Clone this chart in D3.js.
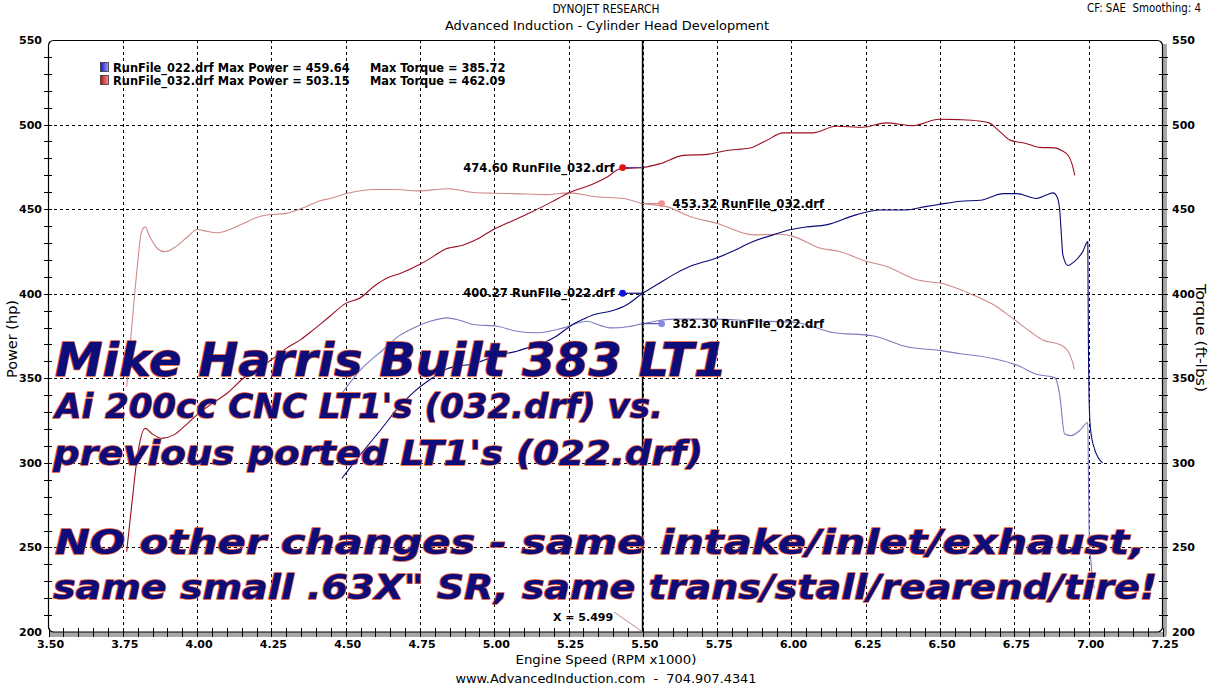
<!DOCTYPE html>
<html><head><meta charset="utf-8">
<script src="https://cdn.jsdelivr.net/npm/d3@7"></script>
<style>body{margin:0;background:#fff}svg{display:block}text{white-space:pre}</style>
</head><body><svg id="c" width="1211" height="685"></svg>
<script>
// ---------------- DATA ----------------
const xTickValues = [3.50,3.75,4.00,4.25,4.50,4.75,5.00,5.25,5.50,5.75,6.00,6.25,6.50,6.75,7.00,7.25];
const yTickValues = [200,250,300,350,400,450,500,550];

// RunFile_032 power (hp) : [rpm x1000, hp]
const power032 = [[3.763,247.5],[3.78,275],[3.80,305],[3.825,320.4],[3.85,317],[3.881,314.5],[3.92,316.4],[3.96,322],[4.01,330],[4.05,335],[4.1,341],[4.156,350],[4.2,355],[4.25,361],[4.3,367.7],[4.35,373],[4.39,378.5],[4.447,386.7],[4.5,394.3],[4.548,397.5],[4.6,405],[4.638,409.2],[4.683,412],[4.745,417],[4.79,421.5],[4.829,425.9],[4.896,428.8],[4.95,433],[4.997,438],[5.06,443],[5.12,447.8],[5.19,454],[5.25,459.6],[5.334,465],[5.38,469],[5.424,473.9],[5.499,474.6],[5.558,476.9],[5.636,481.8],[5.715,482.4],[5.782,484.7],[5.86,486.1],[5.916,490.6],[5.972,495.1],[6.072,495.1],[6.15,499],[6.24,498.4],[6.318,501],[6.407,499.4],[6.497,503.15],[6.564,502.9],[6.631,502.1],[6.665,501],[6.70,496],[6.735,490.8],[6.786,489],[6.836,486.5],[6.886,486.2],[6.91,484.5],[6.93,482],[6.945,476],[6.953,470]];
// RunFile_032 torque (ft-lbs)
const torque032 = [[3.763,345],[3.78,380],[3.80,418],[3.812,436],[3.825,439.5],[3.84,434],[3.865,427],[3.892,424.8],[3.93,428],[3.97,434],[4.0,438],[4.03,437],[4.066,436],[4.11,438],[4.15,441],[4.2,445],[4.234,446.5],[4.3,447.5],[4.36,451],[4.414,455],[4.447,456.3],[4.51,459.5],[4.593,461.6],[4.672,461.6],[4.74,460.8],[4.818,461.8],[4.84,462.09],[4.863,461.8],[4.93,459.8],[5.0,459.4],[5.065,459.2],[5.177,458.6],[5.25,459.6],[5.345,457.3],[5.435,456.3],[5.499,453.32],[5.58,451.5],[5.659,445.6],[5.748,441.7],[5.871,434.8],[5.96,435.2],[6.005,433.9],[6.095,427],[6.162,425],[6.251,419.2],[6.318,416.2],[6.419,408.4],[6.519,405.5],[6.569,402.4],[6.631,397.7],[6.68,393.5],[6.75,384.7],[6.802,377.8],[6.847,372.5],[6.902,370],[6.93,366.1],[6.945,360],[6.952,355.3]];
// RunFile_022 power (hp)
const power022 = [[4.487,290.8],[4.55,305],[4.62,320],[4.683,334],[4.73,342],[4.79,350],[4.84,355.5],[4.89,357.5],[4.93,358.5],[4.97,361],[5.009,363.5],[5.076,366],[5.12,368.5],[5.166,371],[5.21,375],[5.255,380.8],[5.3,385],[5.334,387.6],[5.39,389.6],[5.446,393.5],[5.499,400.27],[5.558,406.5],[5.6,411],[5.659,416.2],[5.748,421.1],[5.8,425],[5.871,430.9],[5.938,434.8],[5.994,437.8],[6.05,439.5],[6.117,440.7],[6.217,446.6],[6.296,449.5],[6.385,449.5],[6.45,451.5],[6.497,452.8],[6.569,454.7],[6.636,455.3],[6.713,459.2],[6.758,459.2],[6.824,456.3],[6.86,458.5],[6.88,459.64],[6.893,457.5],[6.902,450.4],[6.908,435],[6.913,422.9],[6.93,416.7],[6.952,419],[6.98,424.9],[6.997,430.8],[6.998,400],[6.999,370],[7.001,340],[7.006,320],[7.02,308],[7.047,300]];
// RunFile_022 torque (ft-lbs)
const torque022 = [[4.487,341],[4.55,355],[4.62,366],[4.683,375.5],[4.728,379.8],[4.79,384],[4.84,385.72],[4.88,384.5],[4.93,381.8],[5.009,380.8],[5.076,377.8],[5.143,376.9],[5.19,378],[5.233,379.8],[5.312,383.7],[5.36,381],[5.39,379.8],[5.45,380.5],[5.499,382.3],[5.603,385],[5.748,385],[5.86,384],[6.016,383],[6.08,380],[6.139,377.1],[6.273,375.1],[6.396,368.3],[6.497,366.5],[6.569,364.5],[6.636,363],[6.713,360.2],[6.758,357.8],[6.824,352.4],[6.886,350.4],[6.902,340.6],[6.919,317],[6.941,316.1],[6.969,319],[6.997,323.9],[6.999,295],[7.001,262],[7.008,240.6],[7.019,226]];

const legendFiles = ["RunFile_022.drf","RunFile_032.drf"];
const legendMaxPower = ["459.64","503.15"];
const legendMaxTorque = ["385.72","462.09"];

const cursorRpm = 5.499;
const readoutValues = [474.60, 453.32, 400.27, 382.30];
const readoutFiles = ["RunFile_032.drf","RunFile_032.drf","RunFile_022.drf","RunFile_022.drf"];
const readoutSides = ["left","right","left","right"];

const headlineLines = ["Mike Harris Built 383 LT1","Ai 200cc CNC LT1's (032.drf) vs.","previous ported LT1's (022.drf)","NO other changes - same intake/inlet/exhaust,","same small .63X\" SR, same trans/stall/rearend/tire!"];

// ---------------- DRAW ----------------
const svg = d3.select("#c");
const x = d3.scaleLinear().domain([3.5,7.25]).range([48.5,1163]);
const y = d3.scaleLinear().domain([200,550]).range([632,40]);
const boldFont = "'DejaVu Sans', Verdana, sans-serif";
const narrowFont = "'Liberation Sans Narrow','DejaVu Sans Condensed',sans-serif";

const C = {p032:"#9a1020", t032:"#d08a8a", p022:"#0a0a78", t022:"#7b7bc0",
           d032p:"#e01010", d032t:"#f09090", d022p:"#1010e0", d022t:"#8888e8"};

// header / titles
const hdr = svg.append("g").attr("font-family",narrowFont).attr("fill","#000").attr("font-size","13px");
function fitText(sel, len){ return sel.attr("textLength",len).attr("lengthAdjust","spacingAndGlyphs"); }
fitText(hdr.append("text").attr("x",606).attr("y",13).attr("text-anchor","middle").text("DYNOJET RESEARCH"),107);
fitText(hdr.append("text").attr("x",607).attr("y",30).attr("text-anchor","middle").text("Advanced Induction - Cylinder Head Development"),324);
fitText(hdr.append("text").attr("x",1087).attr("y",12).attr("font-size","12.5px").text("CF: SAE  Smoothing: 4"),114);
fitText(hdr.append("text").attr("x",606).attr("y",664).attr("text-anchor","middle").attr("font-size","13px").text("Engine Speed (RPM x1000)"),181);
fitText(hdr.append("text").attr("x",606).attr("y",683).attr("text-anchor","middle").text("www.AdvancedInduction.com  -  704.907.4341"),301);
fitText(hdr.append("text").attr("transform","translate(17,339) rotate(-90)").attr("text-anchor","middle").attr("font-size","14px").text("Power (hp)"),78);
fitText(hdr.append("text").attr("transform","translate(1196,338) rotate(90)").attr("text-anchor","middle").attr("font-size","14px").text("Torque (ft-lbs)"),108);

// shadows
svg.append("rect").attr("x",50).attr("y",632).attr("width",1116).attr("height",5).attr("fill","#a8a8a8");
svg.append("rect").attr("x",1163).attr("y",44).attr("width",4).attr("height",592).attr("fill","#a8a8a8");

// grid
const grid = svg.append("g").attr("stroke","#000").attr("stroke-width",1).attr("stroke-dasharray","3,3").attr("shape-rendering","crispEdges");
grid.selectAll("line.v").data(xTickValues.filter(d=>d>3.5&&d<7.25)).join("line")
  .attr("x1",d=>Math.round(x(d))+0.5).attr("x2",d=>Math.round(x(d))+0.5).attr("y1",40).attr("y2",632);
grid.selectAll("line.h").data(yTickValues.filter(d=>d>200&&d<550)).join("line")
  .attr("y1",d=>Math.round(y(d))+0.5).attr("y2",d=>Math.round(y(d))+0.5).attr("x1",48).attr("x2",1163);

// frame with rounded corners
svg.append("rect").attr("x",48.5).attr("y",40.5).attr("width",1114).attr("height",591.5).attr("rx",5)
  .attr("fill","none").attr("stroke","#000").attr("stroke-width",1.2);

// minor ticks
const minorX = d3.range(0,76).map(i=>3.5+i*0.05);
svg.append("g").selectAll("line").data(minorX).join("line")
  .attr("x1",d=>Math.round(x(d))+0.5).attr("x2",d=>Math.round(x(d))+0.5).attr("y1",628).attr("y2",637)
  .attr("stroke","#000").attr("stroke-width",1).attr("shape-rendering","crispEdges");
const minorY = d3.range(1,35).map(i=>200+i*10);
svg.append("g").selectAll("line").data(minorY).join("line")
  .attr("y1",d=>Math.round(y(d))+0.5).attr("y2",d=>Math.round(y(d))+0.5).attr("x1",44).attr("x2",52)
  .attr("stroke","#000").attr("shape-rendering","crispEdges");
svg.append("g").selectAll("line").data(minorY).join("line")
  .attr("y1",d=>Math.round(y(d))+0.5).attr("y2",d=>Math.round(y(d))+0.5).attr("x1",1159).attr("x2",1168)
  .attr("stroke","#000").attr("shape-rendering","crispEdges");

// tick labels
const tl = svg.append("g").attr("font-family",boldFont).attr("font-weight","bold").attr("font-size","11px").attr("fill","#000");
tl.selectAll("text.xl").data(xTickValues).join("text").attr("x",d=>x(d)+2).attr("y",648).attr("text-anchor","middle").text(d=>d.toFixed(2));
tl.selectAll("text.yl").data(yTickValues).join("text").attr("x",42).attr("y",d=>y(d)+4).attr("text-anchor","end").text(d=>d);
tl.selectAll("text.yr").data(yTickValues).join("text").attr("x",1172).attr("y",d=>y(d)+4).text(d=>d);

// curves
const line = d3.line().x(d=>x(d[0])).y(d=>y(d[1])).curve(d3.curveMonotoneX);
const curves = [[torque032,C.t032],[torque022,C.t022],[power032,C.p032],[power022,C.p022]];
svg.append("g").selectAll("path").data(curves).join("path")
  .attr("d",d=>line(d[0])).attr("fill","none").attr("stroke",d=>d[1]).attr("stroke-width",1.1);

// legend
const lg = svg.append("g").attr("font-family",boldFont).attr("font-weight","bold").attr("font-size","11.4px").attr("fill","#000");
const swDefs = svg.append("defs");
[["gb","#1818c0","#a0a0ff"],["gr","#b01010","#ff9090"]].forEach(([id,a,b])=>{
  const g = swDefs.append("linearGradient").attr("id",id);
  g.append("stop").attr("offset","0").attr("stop-color",a);
  g.append("stop").attr("offset","1").attr("stop-color",b);
});
legendFiles.forEach((f,i)=>{
  const yy = 68 + i*13;
  lg.append("rect").attr("x",100.5).attr("y",yy-5.5).attr("width",8).attr("height",9).attr("fill",i?"url(#gr)":"url(#gb)").attr("stroke","#333").attr("stroke-width",0.8);
  lg.append("text").attr("x",113).attr("y",yy+4).text(`${f} Max Power = ${legendMaxPower[i]}`);
  lg.append("text").attr("x",370).attr("y",yy+4).text(`Max Torque = ${legendMaxTorque[i]}`);
});

// cursor
const cx = x(cursorRpm);
svg.append("line").attr("x1",cx).attr("x2",cx).attr("y1",40).attr("y2",632).attr("stroke","#000").attr("stroke-width",1.6);
svg.append("line").attr("x1",614).attr("y1",612).attr("x2",cx).attr("y2",632).attr("stroke","#c08888").attr("stroke-width",1);
svg.append("text").attr("x",553).attr("y",621).attr("font-family",boldFont).attr("font-weight","bold").attr("font-size","11px").text("X = "+cursorRpm.toFixed(3));

// readouts
const dotCols = [C.d032p,C.d032t,C.d022p,C.d022t];
const lineCols = ["#6a3a8a",C.t032,C.p022,"#5050b0"];
readoutValues.forEach((v,i)=>{
  const yy = y(v);
  const left = readoutSides[i]==="left";
  const dx = left ? cx-20 : cx+19;
  svg.append("line").attr("x1",cx).attr("x2",dx).attr("y1",yy).attr("y2",yy).attr("stroke",lineCols[i]).attr("stroke-width",1.2);
  svg.append("circle").attr("cx",dx).attr("cy",yy).attr("r",3.4).attr("fill",dotCols[i]);
  svg.append("text").attr("x",left?dx-8:dx+11).attr("y",yy+4).attr("text-anchor",left?"end":"start")
    .attr("font-family",boldFont).attr("font-weight","bold").attr("font-size","11.6px").text(`${v.toFixed(2)} ${readoutFiles[i]}`);
});

// headline overlay
const hl = svg.append("g").attr("font-family",boldFont).attr("font-weight","bold").attr("font-style","italic")
  .attr("fill","#0c0c7a").attr("stroke","#e4502c").attr("stroke-width",1.5).attr("paint-order","stroke").attr("stroke-linejoin","round");
const hlX = [55,55,53,55,53], hlY = [376,418,465,554,599], hlW = [672,608,650,1090,1104], hlS = [46,33,33,33,33];
headlineLines.forEach((t,i)=>{
  hl.append("text").attr("x",hlX[i]).attr("y",hlY[i]).attr("font-size",hlS[i]+"px")
    .attr("textLength",hlW[i]).attr("lengthAdjust","spacingAndGlyphs").text(t);
});
</script></body></html>
